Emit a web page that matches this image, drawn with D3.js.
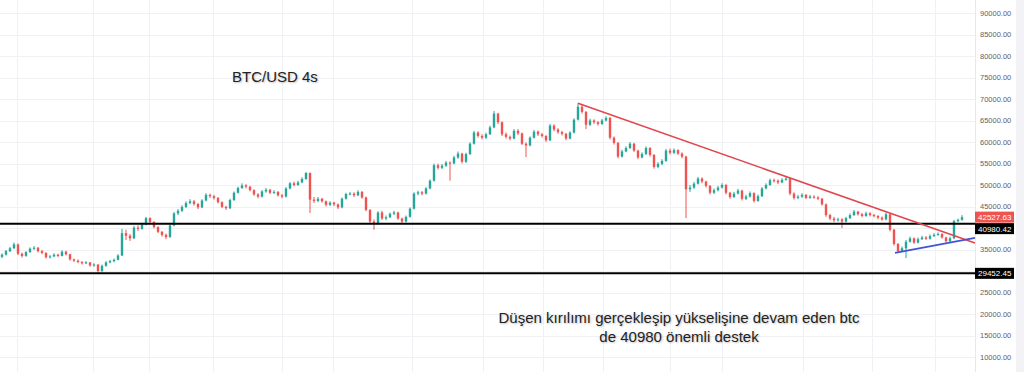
<!DOCTYPE html>
<html>
<head>
<meta charset="utf-8">
<script src="https://cdn.jsdelivr.net/npm/d3@7"></script>
<style>
body{margin:0;background:#fff;}
svg{display:block;font-family:"Liberation Sans",Arial,sans-serif;}
</style>
</head>
<body>
<div id="chart"></div>
<script>
// BTC/USD 4h candles, prices in thousand USD (open = previous close)
var firstOpen = 33.3;
var closeK = [
	33.8,34.6,35.3,36.2,34.0,33.5,34.4,35.2,35.4,34.6,
	34.2,33.2,33.4,33.8,33.5,34.5,33.9,32.7,32.4,32.1,
	31.8,32.0,31.3,31.5,30.0,31.2,32.0,32.3,32.6,33.6,
	38.8,38.2,37.6,40.1,39.8,40.8,42.3,41.4,40.2,39.1,
	38.4,37.9,40.6,43.4,44.0,44.9,45.8,46.2,45.6,44.8,
	46.4,47.7,47.4,47.0,46.0,44.9,44.6,46.5,48.2,49.3,
	49.9,49.6,48.8,47.8,47.3,48.5,48.9,48.2,48.4,47.6,
	47.3,49.2,50.4,50.0,50.6,51.4,52.8,46.6,46.3,46.8,
	46.2,45.4,45.9,45.5,44.8,46.8,47.9,48.0,47.6,48.4,
	47.1,44.2,41.5,41.0,43.6,42.2,42.5,43.3,43.6,42.2,
	41.5,42.6,44.5,48.0,48.3,48.0,49.2,51.0,54.6,54.0,
	54.5,55.2,55.0,56.4,57.3,55.4,57.2,59.6,62.2,61.4,
	61.0,61.8,63.4,66.6,64.6,61.8,61.2,60.8,62.6,62.0,
	59.6,59.2,61.0,62.4,61.8,61.4,60.4,63.8,62.9,62.3,
	61.9,60.8,62.2,65.2,68.2,67.0,64.0,65.0,64.6,64.2,
	65.0,65.6,61.0,59.8,56.6,57.8,58.6,59.6,58.0,56.4,
	57.2,58.6,57.0,54.2,54.9,55.6,58.0,57.5,58.1,57.3,
	56.6,49.0,49.4,50.3,51.5,50.8,49.8,48.2,48.8,49.4,
	50.0,48.2,47.2,48.0,48.7,46.8,47.3,48.1,46.3,47.4,
	49.2,50.0,51.1,51.0,50.6,51.2,51.5,48.0,47.0,47.3,
	47.7,47.0,47.3,47.1,46.8,45.5,43.0,42.2,41.8,42.0,
	41.5,42.3,43.0,43.8,43.2,42.8,43.4,43.0,42.8,42.4,
	42.0,43.2,39.6,36.3,34.6,35.3,36.8,37.6,36.6,37.4,
	37.8,37.5,38.1,38.4,38.6,37.8,36.9,37.6,41.6,41.9,
	42.52763
];
var highK = [
	34.1,34.9,35.6,36.6,36.4,34.3,34.6,35.5,35.8,35.6,
	34.9,34.4,33.7,34.1,34.0,34.8,34.7,34.0,32.9,32.7,
	32.3,32.3,32.1,31.8,31.6,31.5,32.3,32.6,32.9,33.9,
	39.8,39.6,38.6,40.5,40.6,41.2,42.6,42.5,41.6,40.4,
	39.3,38.7,40.9,43.7,44.4,45.3,46.2,46.7,46.5,45.8,
	46.7,48.1,48.0,47.7,47.2,46.2,45.2,46.8,48.5,49.6,
	50.4,50.2,49.8,49.0,48.1,48.8,49.3,49.1,48.8,48.6,
	47.9,49.5,50.7,50.8,51.0,51.8,53.0,52.9,47.2,47.2,
	47.0,46.4,46.2,46.1,45.7,47.1,48.2,48.4,48.3,48.8,
	48.6,47.3,44.4,42.0,43.9,44.0,42.9,43.6,44.0,43.8,
	42.4,42.9,44.8,48.3,48.7,48.6,49.5,51.3,55.0,55.0,
	54.9,55.6,55.5,56.8,57.8,57.5,57.5,59.9,62.6,62.5,
	61.8,62.2,63.8,67.2,66.8,64.8,62.2,61.5,63.0,63.0,
	62.2,59.9,61.3,62.8,62.7,62.1,61.6,64.2,64.1,63.2,
	62.6,62.1,62.5,65.5,69.0,68.6,67.2,65.4,65.3,64.9,
	65.4,66.0,65.8,61.3,60.0,58.2,59.0,60.0,59.8,58.2,
	57.6,59.0,58.8,57.2,55.3,56.0,58.4,58.5,58.5,58.3,
	57.6,56.8,50.0,50.7,51.9,51.8,51.0,50.0,49.2,49.8,
	50.4,50.2,48.4,48.4,49.1,48.9,47.7,48.5,48.3,47.8,
	49.5,50.4,51.5,51.5,51.3,51.6,52.1,51.7,48.3,47.7,
	48.1,47.9,47.7,47.6,47.4,47.0,45.7,43.3,42.6,42.4,
	42.3,42.6,43.4,44.2,44.0,43.5,43.8,43.7,43.3,43.0,
	42.7,43.6,43.4,39.8,36.5,35.7,37.2,38.0,37.8,37.8,
	38.2,38.1,38.5,38.8,39.0,38.8,38.0,38.0,41.9,42.2,
	43.0
];
var lowK = [
	33.0,33.6,34.4,35.1,33.7,33.1,33.3,34.2,34.9,34.3,
	33.9,32.9,32.9,33.2,33.2,33.4,33.6,32.4,32.1,31.8,
	31.5,31.6,31.0,31.0,29.3,29.8,31.0,31.8,32.0,32.5,
	33.5,37.2,37.0,37.4,39.3,39.6,40.6,41.0,39.9,38.8,
	38.0,37.4,37.7,40.4,43.0,43.7,44.6,45.5,45.2,44.4,
	44.6,46.2,47.0,46.6,45.7,44.6,44.2,44.4,46.3,48.0,
	49.1,49.2,48.5,47.5,46.9,47.1,48.2,47.9,47.9,47.3,
	46.9,47.1,49.0,49.7,49.8,50.4,51.2,43.5,45.8,46.0,
	45.9,45.0,45.1,45.1,44.4,44.6,46.6,47.6,47.2,47.4,
	46.8,43.9,41.0,39.6,40.8,41.9,41.8,42.3,43.0,41.9,
	41.1,41.3,42.4,44.3,47.6,47.6,47.8,49.0,50.8,53.6,
	53.7,54.2,51.0,54.8,56.1,55.0,55.1,57.0,59.4,61.0,
	60.6,60.7,61.6,63.2,64.2,61.4,60.8,60.4,60.6,61.6,
	59.3,56.5,59.0,60.8,61.4,61.0,60.0,60.2,62.5,61.9,
	61.5,60.4,60.6,62.0,65.0,66.6,63.0,63.7,64.2,63.8,
	64.0,64.8,60.6,59.4,56.2,56.4,57.6,58.4,57.7,56.0,
	56.2,57.0,56.6,53.8,53.9,54.6,55.4,57.1,57.2,57.0,
	56.2,42.3,48.4,49.1,50.1,50.4,49.4,47.8,47.9,48.5,
	49.2,47.8,46.8,47.0,47.8,46.4,46.5,47.1,45.9,46.1,
	47.2,49.0,49.8,50.6,50.2,50.4,51.0,47.6,46.6,46.7,
	47.0,46.7,46.8,46.8,46.5,45.2,42.6,41.8,41.4,41.5,
	40.0,41.3,42.1,42.8,42.9,42.5,42.6,42.7,42.5,42.0,
	41.7,41.8,39.2,35.9,34.2,34.4,33.0,36.6,36.3,36.4,
	37.2,37.2,37.3,37.9,38.2,37.5,36.6,36.7,37.4,41.3,
	41.7
];

var priceTicks = [10000,15000,20000,25000,30000,35000,40000,45000,50000,
                  55000,60000,65000,70000,75000,80000,85000,90000];
// vertical grid lines, in candle index units
var timeGrid = [3.75,22.75,36.75,52.75,70,82.75,102.5,120.25,135.25,
                150.25,167,180,200.25,217.5,233.25];

var supportLevels = [40980.42, 29452.45];
var lastPrice = 42527.63;
// drawn lines: [candle index, price]
var fallingLine = [[144, 69000], [243.25, 36500]];
var risingLine = [[223.25, 34200], [243.25, 37700]];

var titleText = 'BTC/USD 4s';
var noteLines = ['Düşen kırılımı gerçekleşip yükselişine devam eden btc',
                 'de 40980 önemli destek'];

var width = 1024, height = 372;
var plotRight = 975;

var svg = d3.select('#chart').append('svg')
	.attr('width', width)
	.attr('height', height);

var x = d3.scaleLinear().domain([0, closeK.length - 1]).range([2, 962]);
var y = d3.scaleLinear().domain([10000, 90000]).range([357, 13]);

// price tags on the scale, the 40980 tag is pushed down to clear the last price tag
var tags = [
	{ v : lastPrice, cy : y(lastPrice), bg : '#ef5350' },
	{ v : supportLevels[0], cy : y(lastPrice) + 11.5, bg : '#000' },
	{ v : supportLevels[1], cy : y(supportLevels[1]), bg : '#000' }
];

drawGrid();
drawCandles();
drawLevels();
drawTrendLines();
drawAxis();
drawTexts();

function drawGrid(){
	var g = svg.append('g').attr('class', 'grid');
	g.selectAll('.hgrid').data(priceTicks).enter().append('line')
		.attr('x1', 0).attr('x2', plotRight)
		.attr('y1', function(d){ return Math.round(y(d)) + 0.5; })
		.attr('y2', function(d){ return Math.round(y(d)) + 0.5; })
		.attr('stroke', '#f0f1f5').attr('stroke-width', 1);
	g.selectAll('.vgrid').data(timeGrid).enter().append('line')
		.attr('x1', function(d){ return Math.round(x(d)) + 0.5; })
		.attr('x2', function(d){ return Math.round(x(d)) + 0.5; })
		.attr('y1', 0).attr('y2', height)
		.attr('stroke', '#f0f1f5').attr('stroke-width', 1);
}

function drawCandles(){
	var candles = closeK.map(function(c, i){
		return {
			i : i,
			open : (i == 0 ? firstOpen : closeK[i-1]) * 1000,
			close : c * 1000,
			high : highK[i] * 1000,
			low : lowK[i] * 1000
		};
	});
	var g = svg.append('g').attr('class', 'candles');
	var gc = g.selectAll('g').data(candles).enter().append('g')
		.attr('fill', function(d){ return d.close >= d.open ? '#26a69a' : '#ef5350'; })
		.attr('stroke', function(d){ return d.close >= d.open ? '#26a69a' : '#ef5350'; });

	gc.append('line')
		.attr('x1', function(d){ return x(d.i); })
		.attr('x2', function(d){ return x(d.i); })
		.attr('y1', function(d){ return y(d.high); })
		.attr('y2', function(d){ return y(d.low); })
		.attr('stroke-width', 1);

	gc.append('rect')
		.attr('x', function(d){ return x(d.i) - 1.2; })
		.attr('width', 2.4)
		.attr('y', function(d){ return y(Math.max(d.open, d.close)); })
		.attr('height', function(d){ return Math.max(1, Math.abs(y(d.open) - y(d.close))); })
		.attr('stroke', 'none');
}

function drawLevels(){
	svg.append('g').selectAll('line').data(supportLevels).enter().append('line')
		.attr('x1', 0).attr('x2', plotRight)
		.attr('y1', function(d){ return y(d); })
		.attr('y2', function(d){ return y(d); })
		.attr('stroke', '#000').attr('stroke-width', 2);
}

function drawTrendLines(){
	var line = d3.line()
		.x(function(d){ return x(d[0]); })
		.y(function(d){ return y(d[1]); });
	svg.append('path').datum(fallingLine)
		.attr('d', line).attr('fill', 'none')
		.attr('stroke', '#e0474c').attr('stroke-width', 1.6);
	svg.append('path').datum(risingLine)
		.attr('d', line).attr('fill', 'none')
		.attr('stroke', '#3f55d8').attr('stroke-width', 1.8);
}

function drawAxis(){
	// right price scale panel
	svg.append('line')
		.attr('x1', plotRight + 0.5).attr('x2', plotRight + 0.5)
		.attr('y1', 0).attr('y2', height)
		.attr('stroke', '#e6e8ee');
	svg.append('rect')
		.attr('x', 1016).attr('y', 0).attr('width', 8).attr('height', height)
		.attr('fill', '#f3f3f7');

	// tick labels hidden under a price tag are left out, as on the scale
	var labelTicks = priceTicks.filter(function(v){
		return tags.every(function(t){ return Math.abs(y(v) - t.cy) > 9; });
	});
	var axis = d3.axisRight(y)
		.tickValues(labelTicks)
		.tickFormat(d3.format('.2f'))
		.tickSize(0)
		.tickPadding(5);
	var ga = svg.append('g')
		.attr('transform', 'translate(' + plotRight + ',0)')
		.call(axis);
	ga.select('.domain').remove();
	ga.selectAll('text')
		.attr('fill', '#5d606b')
		.style('font-size', '7.5px')
		.style('font-family', '"Liberation Sans",Arial,sans-serif');

	var gt = svg.append('g').selectAll('g').data(tags).enter().append('g');
	gt.append('rect')
		.attr('x', plotRight)
		.attr('y', function(d){ return d.cy - 5.5; })
		.attr('width', 39).attr('height', 11)
		.attr('fill', function(d){ return d.bg; });
	gt.append('text')
		.attr('x', plotRight + 3)
		.attr('y', function(d){ return d.cy + 3; })
		.attr('fill', '#fff')
		.style('font-size', '8px')
		.text(function(d){ return d3.format('.2f')(d.v); });
}

function drawTexts(){
	svg.append('text')
		.attr('x', 232).attr('y', 82)
		.attr('fill', '#222')
		.style('font-size', '15px')
		.style('text-shadow', '1px 1px 2px rgba(0,0,0,0.25)')
		.text(titleText);

	svg.append('g').selectAll('text').data(noteLines).enter().append('text')
		.attr('x', 679)
		.attr('y', function(d, i){ return 323 + i*19; })
		.attr('text-anchor', 'middle')
		.attr('fill', '#222')
		.style('font-size', '15px')
		.style('text-shadow', '1px 1px 2px rgba(0,0,0,0.25)')
		.text(function(d){ return d; });
}
</script>
</body>
</html>
